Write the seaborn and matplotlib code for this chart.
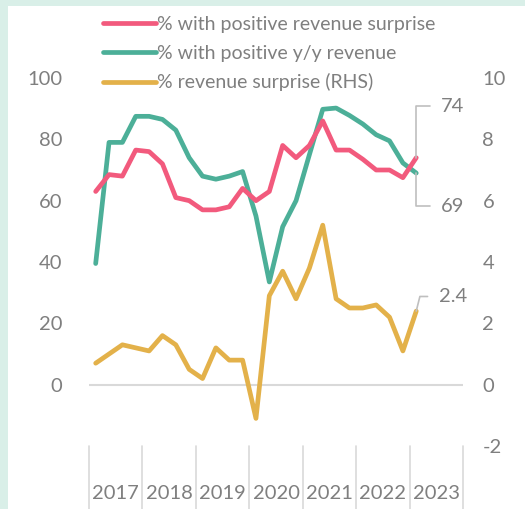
import numpy as np
import pandas as pd
import matplotlib
matplotlib.use('Agg')
import matplotlib.pyplot as plt
from matplotlib.patches import Rectangle
import seaborn as sns

# quarterly data, 2017Q1 - 2023Q1
quarters = ['2017Q1', '2017Q2', '2017Q3', '2017Q4', '2018Q1', '2018Q2', '2018Q3', '2018Q4',
            '2019Q1', '2019Q2', '2019Q3', '2019Q4', '2020Q1', '2020Q2', '2020Q3', '2020Q4',
            '2021Q1', '2021Q2', '2021Q3', '2021Q4', '2022Q1', '2022Q2', '2022Q3', '2022Q4',
            '2023Q1']
pos_surprise = [63, 68.5, 68, 76.5, 76, 72, 61, 60, 57, 57, 58, 64,
                60, 63, 78, 74, 78, 86, 76.5, 76.5, 73.5, 70, 70, 67.5, 74]
pos_yy = [39.5, 79, 79, 87.5, 87.5, 86.5, 83, 74, 68, 67, 68, 69.5,
          55, 33.5, 51.5, 60, 75, 89.8, 90.2, 87.8, 85, 81.5, 79.5, 72.3, 69]
rev_surprise = [0.7, 1.0, 1.3, 1.2, 1.1, 1.6, 1.3, 0.5, 0.2, 1.2, 0.8, 0.8,
                -1.1, 2.9, 3.7, 2.8, 3.8, 5.2, 2.8, 2.5, 2.5, 2.6, 2.2, 1.1, 2.4]
years = ['2017', '2018', '2019', '2020', '2021', '2022', '2023']

labels = ['% with positive revenue surprise', '% with positive y/y revenue', '% revenue surprise (RHS)']
colors = ['#f25a7d', '#4caf98', '#e3b14a']
grey = '#7f7f7f'

df = pd.DataFrame({'quarter': quarters, 'pos_surprise': pos_surprise,
                   'pos_yy': pos_yy, 'rev_surprise': rev_surprise})
df['x'] = np.arange(len(df))

sns.set_style('white')
plt.rcParams['font.family'] = ['Lato', 'DejaVu Sans']
plt.rcParams['axes.unicode_minus'] = False
fs = 14.5

fig = plt.figure(figsize=(5.25, 5.09), dpi=100, facecolor='#d9efe8')
fig.patches.append(Rectangle((8 / 525, 0), 1, 1 - 6 / 509, transform=fig.transFigure,
                             facecolor='white', edgecolor='none', zorder=-5))
ax = fig.add_axes([89 / 525, 1 - 446 / 509, (463 - 89) / 525, (446 - 78) / 509])
ax.patch.set_alpha(0)
ax2 = ax.twinx()
ax2.patch.set_alpha(0)

lw = 3.4
sns.lineplot(data=df, x='x', y='pos_surprise', ax=ax, color=colors[0], lw=lw,
             solid_capstyle='round', label=labels[0], legend=False, zorder=3)
sns.lineplot(data=df, x='x', y='pos_yy', ax=ax, color=colors[1], lw=lw,
             solid_capstyle='round', label=labels[1], legend=False, zorder=2)
sns.lineplot(data=df, x='x', y='rev_surprise', ax=ax2, color=colors[2], lw=lw,
             solid_capstyle='round', label=labels[2], legend=False)

n_slots = 4 * len(years)
ax.set_xlim(-0.5, n_slots - 0.5)
ax.set_ylim(-20, 100)
ax2.set_ylim(-2, 10)
ax.set_yticks(range(0, 101, 20))
ax2.set_yticks(range(-2, 11, 2))
ax.set_xticks([])
ax.set_xlabel('')
ax.set_ylabel('')
ax2.set_ylabel('')
ax.tick_params(axis='y', length=0, pad=19, labelsize=fs, labelcolor=grey)
ax2.tick_params(axis='y', length=0, pad=14, labelsize=fs, labelcolor=grey)
for a in (ax, ax2):
    for s in a.spines.values():
        s.set_visible(False)

ax.axhline(0, color='#d9d9d9', lw=1.5, zorder=1)

# year separators and labels under the plot
trans = ax.get_xaxis_transform()
for k in range(len(years) + 1):
    ax.plot([4 * k - 0.5] * 2, [0, -0.19], transform=trans, color='#d9d9d9',
            lw=1.2, clip_on=False)
for k, yr in enumerate(years):
    ax.text(4 * k + 1.5, -0.13, yr, transform=trans, ha='center', va='center',
            fontsize=fs, color=grey)

# end labels with leader lines
last = df.iloc[-1]
lead = dict(arrowstyle='-', color='#bfbfbf', lw=1.2, shrinkA=6, shrinkB=0)
ax.annotate(f"{last['pos_surprise']:.0f}", xy=(last['x'], last['pos_surprise']),
            xytext=(18, 37), textcoords='offset points', ha='left', va='center',
            fontsize=fs, color=grey,
            arrowprops=dict(lead, connectionstyle='angle,angleA=0,angleB=90,rad=0'))
ax.annotate(f"{last['pos_yy']:.0f}", xy=(last['x'], last['pos_yy']),
            xytext=(18, -24), textcoords='offset points', ha='left', va='center',
            fontsize=fs, color=grey,
            arrowprops=dict(lead, connectionstyle='angle,angleA=0,angleB=90,rad=0'))
ax2.annotate(f"{last['rev_surprise']:.1f}", xy=(last['x'], last['rev_surprise']),
             xytext=(16.5, 10.5), textcoords='offset points', ha='left', va='center',
             fontsize=fs, color=grey,
             arrowprops=dict(lead, connectionstyle='angle,angleA=0,angleB=76,rad=0'))

handles = ax.get_lines()[:2] + ax2.get_lines()[:1]
leg = fig.legend(handles, labels, loc='upper left', bbox_to_anchor=(103 / 525, 1 - 16 / 509),
                 frameon=False, handlelength=2.7, handletextpad=0.1, labelspacing=0.6,
                 borderpad=0, borderaxespad=0, fontsize=14, labelcolor=grey)

fig.savefig('out.png', dpi=100, facecolor=fig.get_facecolor())
